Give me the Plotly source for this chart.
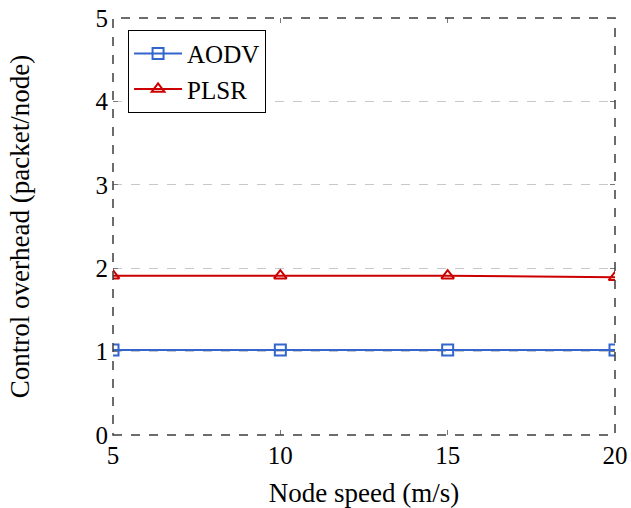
import plotly.graph_objects as go

speeds = [5, 10, 15, 20]
aodv = [1.02, 1.02, 1.02, 1.02]
plsr = [1.91, 1.91, 1.91, 1.89]
x_ticks = [5, 10, 15, 20]
y_ticks = [0, 1, 2, 3, 4, 5]

FONT = "Liberation Serif"
blue = "rgb(51,102,204)"
red = "rgb(204,0,0)"

fig = go.Figure()
fig.add_trace(go.Scatter(x=speeds, y=aodv, name="AODV", mode="lines+markers",
                         line=dict(color=blue, width=2),
                         marker=dict(symbol="square-open", size=11, color=blue, line=dict(width=2))))
fig.add_trace(go.Scatter(x=speeds, y=plsr, name="PLSR", mode="lines+markers",
                         line=dict(color=red, width=2),
                         marker=dict(symbol="triangle-up-open", size=11, color=red, line=dict(width=2))))

fig.update_layout(
    width=631, height=508,
    margin=dict(l=113, r=16, t=18, b=73, autoexpand=False),
    paper_bgcolor="white", plot_bgcolor="white",
    font=dict(family=FONT, size=25, color="black"),
    showlegend=True,
    legend=dict(x=0.03, y=0.972, xanchor="left", yanchor="top",
                bordercolor="black", borderwidth=1, bgcolor="white",
                font=dict(family=FONT, size=25), itemwidth=48,
                tracegroupgap=0),
    xaxis=dict(range=[5, 20], tickvals=x_ticks, showgrid=False, zeroline=False,
               ticks="inside", ticklen=5, tickcolor="rgb(120,120,120)", mirror="ticks",
               automargin=False, ticklabelstandoff=3, ticklabeloverflow="allow",
               title=dict(text="Node speed (m/s)", standoff=16, font=dict(size=27)),
               tickfont=dict(size=25)),
    yaxis=dict(range=[0, 5], tickvals=y_ticks, showgrid=True, gridcolor="rgb(200,200,200)",
               griddash="dash", gridwidth=1, zeroline=False,
               ticks="inside", ticklen=5, tickcolor="rgb(120,120,120)", mirror="ticks",
               automargin=False, ticklabelstandoff=4, ticklabeloverflow="allow",
               title=dict(text="Control overhead (packet/node)", standoff=58, font=dict(size=27)),
               tickfont=dict(size=25)),
)
fig.add_shape(type="rect", xref="paper", yref="paper", x0=0, y0=0, x1=1, y1=1,
              line=dict(color="rgb(60,60,60)", width=1.5, dash="dash"), layer="above")

fig.write_html("out.html", config={"displayModeBar": False},
               post_script="document.body.style.margin='0';document.body.style.overflow='hidden';")
